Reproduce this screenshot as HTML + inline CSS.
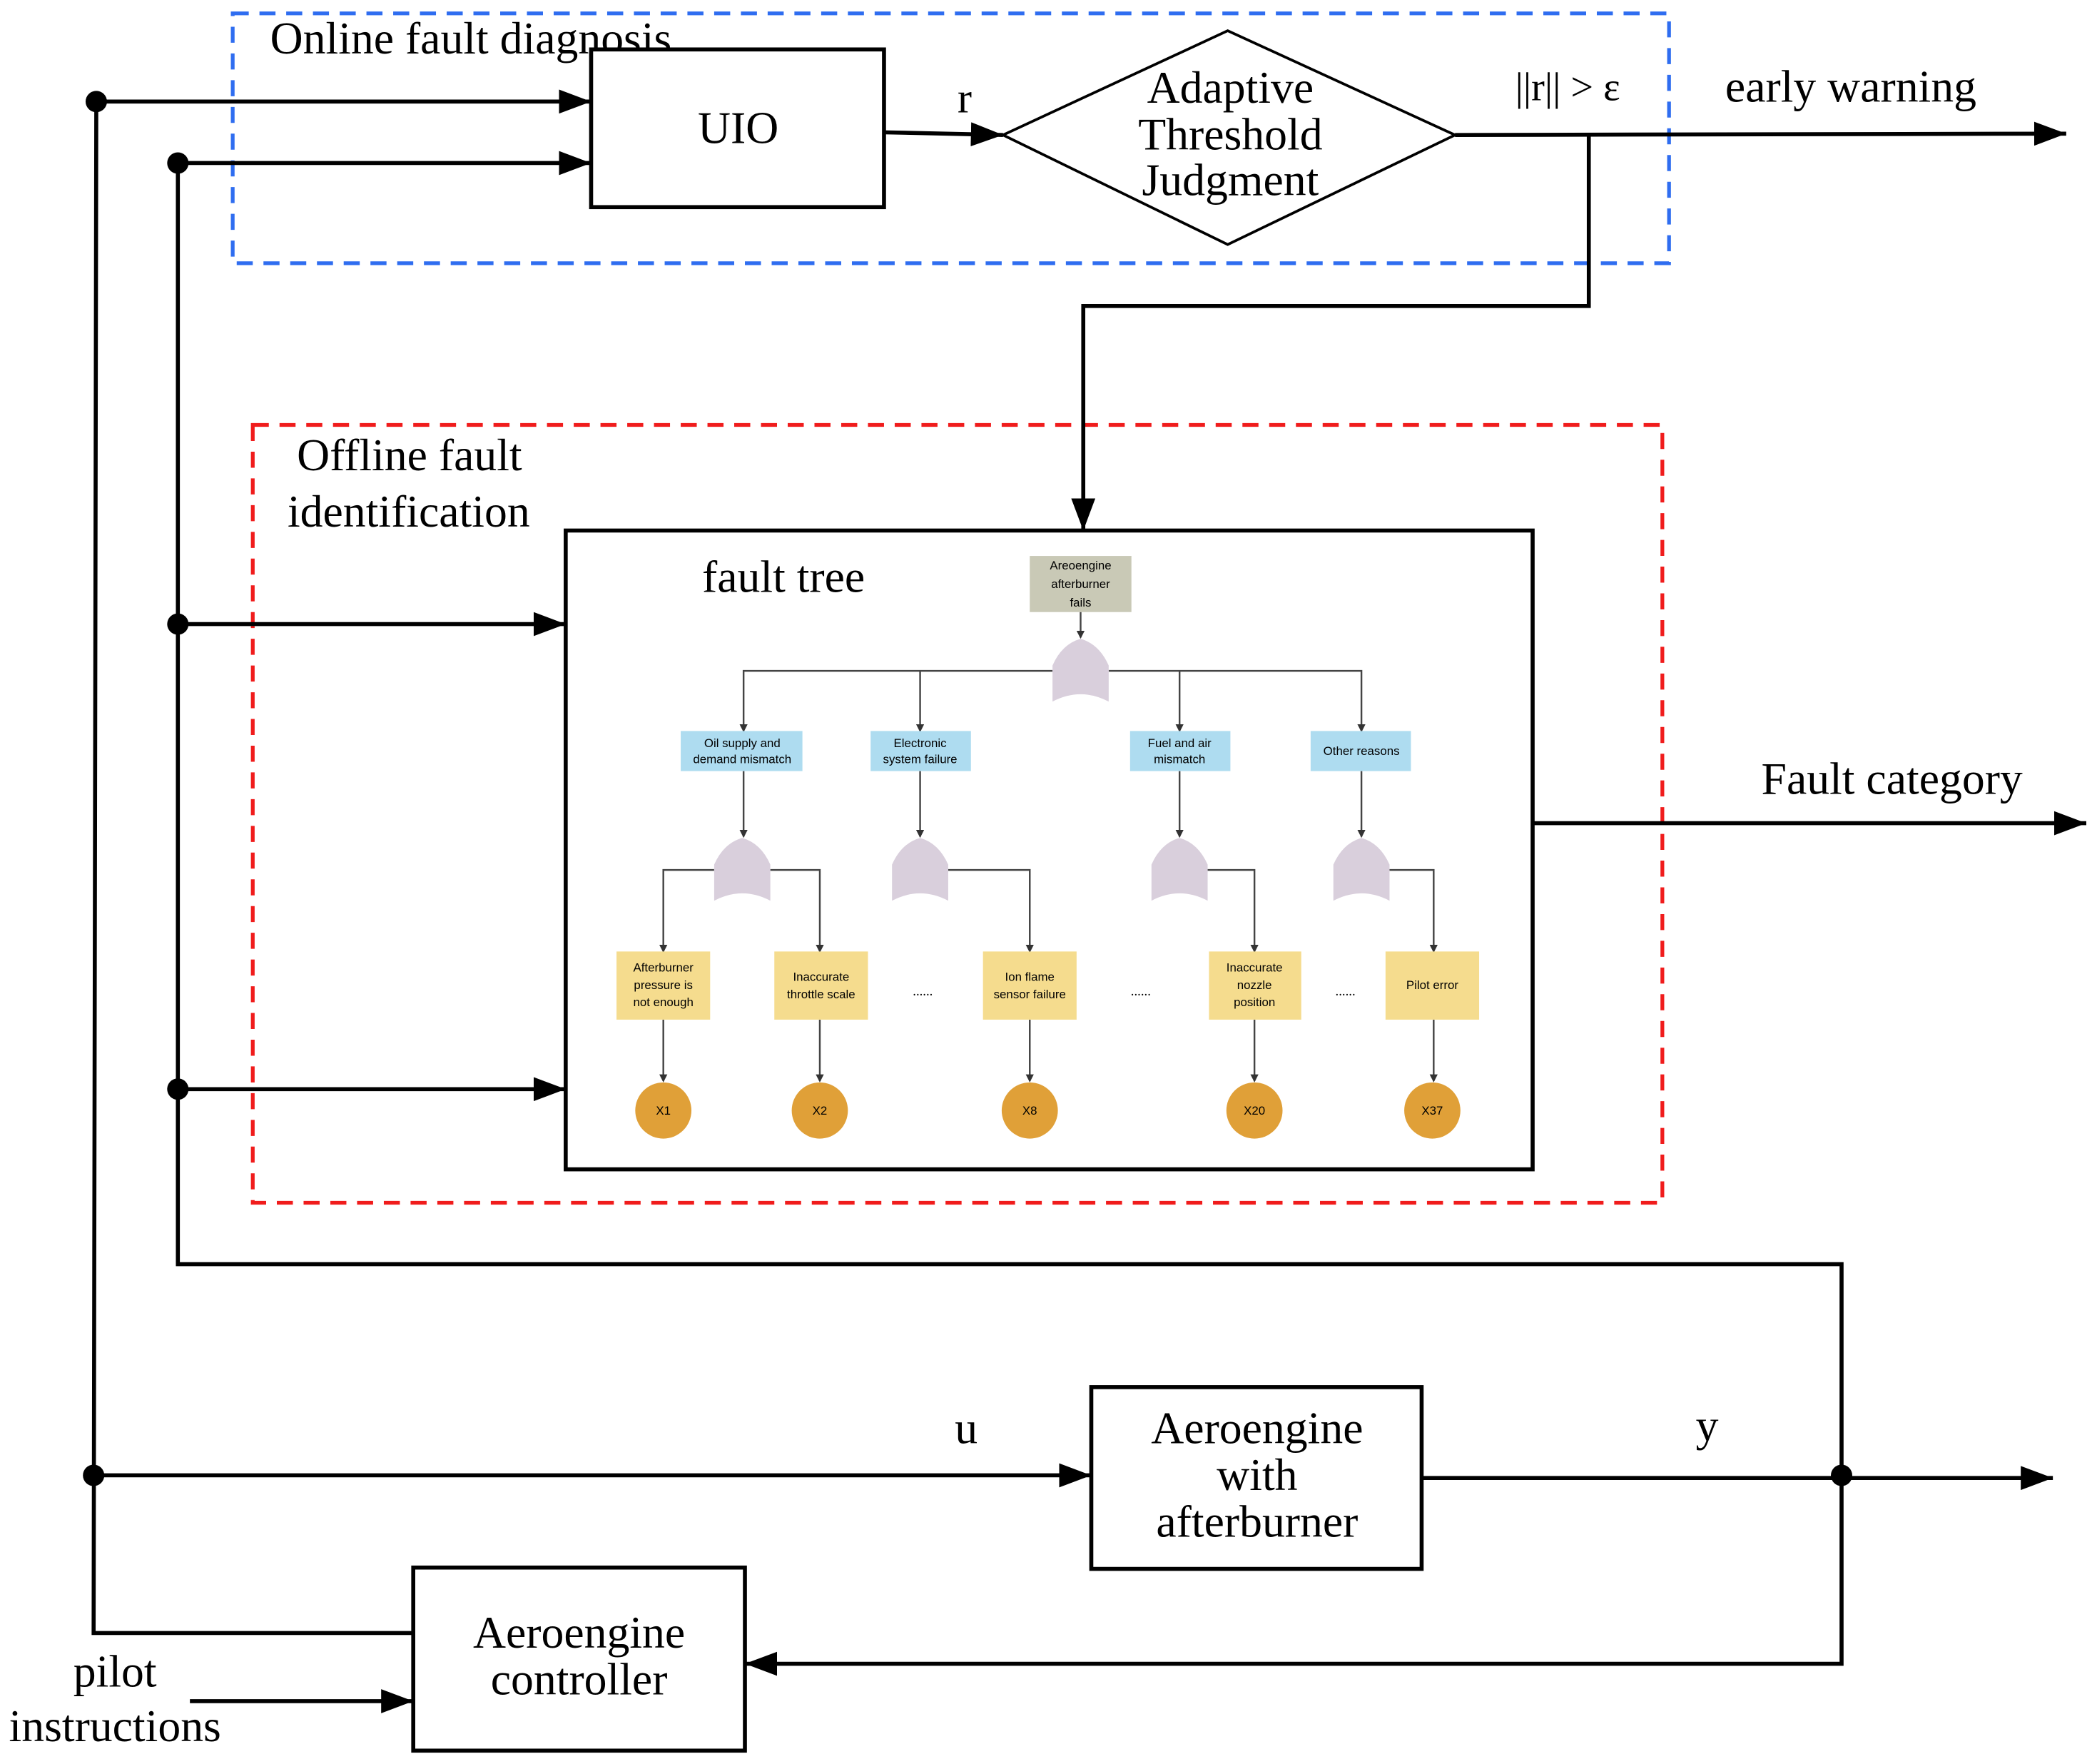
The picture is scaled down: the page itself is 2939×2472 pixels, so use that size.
<!DOCTYPE html>
<html><head><meta charset="utf-8"><style>
html,body{margin:0;padding:0;background:#fff;}
svg{display:block;}
text{font-family:"Liberation Serif",serif;fill:#000;}
.ft{font-family:"Liberation Sans",sans-serif;font-size:9px;text-anchor:middle;}
</style></head><body>
<svg width="2939" height="2472" viewBox="0 0 1568 1320" preserveAspectRatio="none" xmlns="http://www.w3.org/2000/svg">
<defs>
<marker id="a" markerWidth="24" markerHeight="18" refX="24" refY="9" orient="auto" markerUnits="userSpaceOnUse"><path d="M0,0 L24,9 L0,18 z" fill="#000"/></marker>
<marker id="s" markerWidth="6" markerHeight="6" refX="5" refY="3" orient="auto" markerUnits="userSpaceOnUse"><path d="M0,0 L6,3 L0,6 z" fill="#333"/></marker>
<g id="gate"><path d="M-21,47 L-21,20 Q-14,4 0,0 Q14,4 21,20 L21,47 Q0,36 -21,47 z" fill="#d9cfdc"/></g>
</defs>
<rect x="174" y="10" width="1074" height="187" fill="none" stroke="#2f6df0" stroke-width="2.8" stroke-dasharray="12,8"/>
<rect x="189" y="318" width="1054" height="582" fill="none" stroke="#f01c1c" stroke-width="2.8" stroke-dasharray="12,8"/>
<text x="202" y="40" font-size="34">Online fault diagnosis</text>
<text x="222" y="352" font-size="34">Offline fault</text>
<text x="215" y="394" font-size="34">identification</text>

<g stroke="#000" stroke-width="3" fill="none">
<rect x="442" y="37" width="219" height="118" fill="#fff"/>
<path d="M750,101 L918,23 L1088,101 L918,183 z" fill="#fff" stroke-width="2"/>
<rect x="423" y="397" width="723" height="478" fill="#fff"/>
<rect x="816" y="1038" width="247" height="136" fill="#fff"/>
<rect x="309" y="1173" width="248" height="137" fill="#fff"/>
<line x1="661" y1="99" x2="750" y2="101" marker-end="url(#a)"/>
<line x1="1088" y1="101" x2="1545" y2="100" marker-end="url(#a)"/>
<polyline points="1188,101 1188,229 810,229 810,397" marker-end="url(#a)"/>
<line x1="72" y1="76" x2="442" y2="76" marker-end="url(#a)"/>
<line x1="133" y1="122" x2="442" y2="122" marker-end="url(#a)"/>
<line x1="133" y1="467" x2="423" y2="467" marker-end="url(#a)"/>
<line x1="133" y1="815" x2="423" y2="815" marker-end="url(#a)"/>
<polyline points="72,76 70,1222 309,1222"/>
<polyline points="133,122 133,946 1377,946 1377,1245 557,1245" marker-end="url(#a)"/>
<line x1="1146" y1="616" x2="1560" y2="616" marker-end="url(#a)"/>
<line x1="70" y1="1104" x2="816" y2="1104" marker-end="url(#a)"/>
<line x1="1063" y1="1106" x2="1535" y2="1106" marker-end="url(#a)"/>
<line x1="142" y1="1273" x2="309" y2="1273" marker-end="url(#a)"/>
</g>
<g fill="#000">
<circle cx="72" cy="76" r="8"/><circle cx="133" cy="122" r="8"/><circle cx="133" cy="467" r="8"/>
<circle cx="133" cy="815" r="8"/><circle cx="70" cy="1104" r="8"/><circle cx="1377" cy="1104" r="8"/>
</g>
<text x="552" y="107" font-size="34" text-anchor="middle">UIO</text>
<text x="716" y="84" font-size="32">r</text>
<g font-size="34" text-anchor="middle"><text x="920" y="77">Adaptive</text><text x="920" y="112">Threshold</text><text x="920" y="146">Judgment</text></g>
<text x="1133" y="75" font-size="30">||r|| &gt; ε</text>
<text x="1290" y="76" font-size="34">early warning</text>
<text x="1317" y="594" font-size="34">Fault category</text>
<text x="525" y="443" font-size="34">fault tree</text>
<text x="714" y="1080" font-size="34">u</text>
<text x="1268" y="1078" font-size="34">y</text>
<g font-size="34" text-anchor="middle"><text x="940" y="1080">Aeroengine</text><text x="940" y="1115">with</text><text x="940" y="1150">afterburner</text>
<text x="433" y="1233">Aeroengine</text><text x="433" y="1268">controller</text>
<text x="86" y="1262">pilot</text><text x="86" y="1303">instructions</text></g>

<g stroke="#444" stroke-width="1.3" fill="none">
<line x1="808" y1="458" x2="808" y2="477" marker-end="url(#s)"/>
<polyline points="787,502 556,502 556,547" marker-end="url(#s)"/>
<line x1="688" y1="502" x2="688" y2="547" marker-end="url(#s)"/>
<polyline points="829,502 1018,502 1018,547" marker-end="url(#s)"/>
<line x1="882" y1="502" x2="882" y2="547" marker-end="url(#s)"/>
<line x1="556" y1="577" x2="556" y2="626" marker-end="url(#s)"/>
<line x1="688" y1="577" x2="688" y2="626" marker-end="url(#s)"/>
<line x1="882" y1="577" x2="882" y2="626" marker-end="url(#s)"/>
<line x1="1018" y1="577" x2="1018" y2="626" marker-end="url(#s)"/>
<polyline points="534,651 496,651 496,712" marker-end="url(#s)"/>
<polyline points="576,651 613,651 613,712" marker-end="url(#s)"/>
<polyline points="709,651 770,651 770,712" marker-end="url(#s)"/>
<polyline points="903,651 938,651 938,712" marker-end="url(#s)"/>
<polyline points="1039,651 1072,651 1072,712" marker-end="url(#s)"/>
<line x1="496" y1="763" x2="496" y2="809" marker-end="url(#s)"/>
<line x1="613" y1="763" x2="613" y2="809" marker-end="url(#s)"/>
<line x1="770" y1="763" x2="770" y2="809" marker-end="url(#s)"/>
<line x1="938" y1="763" x2="938" y2="809" marker-end="url(#s)"/>
<line x1="1072" y1="763" x2="1072" y2="809" marker-end="url(#s)"/>
</g>
<use href="#gate" x="808" y="478"/>
<use href="#gate" x="555" y="627"/><use href="#gate" x="688" y="627"/>
<use href="#gate" x="882" y="627"/><use href="#gate" x="1018" y="627"/>
<rect x="770" y="416" width="76" height="42" fill="#c9c9b6"/>
<text class="ft" x="808" y="426">Areoengine</text><text class="ft" x="808" y="440">afterburner</text><text class="ft" x="808" y="454">fails</text>
<g fill="#aedcf0">
<rect x="509" y="547" width="91" height="30"/><rect x="651" y="547" width="75" height="30"/>
<rect x="845" y="547" width="75" height="30"/><rect x="980" y="547" width="75" height="30"/>
</g>
<text class="ft" x="555" y="559">Oil supply and</text><text class="ft" x="555" y="571">demand mismatch</text>
<text class="ft" x="688" y="559">Electronic</text><text class="ft" x="688" y="571">system failure</text>
<text class="ft" x="882" y="559">Fuel and air</text><text class="ft" x="882" y="571">mismatch</text>
<text class="ft" x="1018" y="565">Other reasons</text>
<g fill="#f5dc8e">
<rect x="461" y="712" width="70" height="51"/><rect x="579" y="712" width="70" height="51"/>
<rect x="735" y="712" width="70" height="51"/><rect x="904" y="712" width="69" height="51"/>
<rect x="1036" y="712" width="70" height="51"/>
</g>
<text class="ft" x="496" y="727">Afterburner</text><text class="ft" x="496" y="740">pressure is</text><text class="ft" x="496" y="753">not enough</text>
<text class="ft" x="614" y="734">Inaccurate</text><text class="ft" x="614" y="747">throttle scale</text>
<text class="ft" x="770" y="734">Ion flame</text><text class="ft" x="770" y="747">sensor failure</text>
<text class="ft" x="938" y="727">Inaccurate</text><text class="ft" x="938" y="740">nozzle</text><text class="ft" x="938" y="753">position</text>
<text class="ft" x="1071" y="740">Pilot error</text>
<g font-family="Liberation Sans" font-size="10" fill="#777" text-anchor="middle">
<text x="690" y="745">......</text><text x="853" y="745">......</text><text x="1006" y="745">......</text></g>
<g fill="#e0a038">
<circle cx="496" cy="831" r="21"/><circle cx="613" cy="831" r="21"/><circle cx="770" cy="831" r="21"/>
<circle cx="938" cy="831" r="21"/><circle cx="1071" cy="831" r="21"/>
</g>
<text class="ft" x="496" y="834">X1</text><text class="ft" x="613" y="834">X2</text><text class="ft" x="770" y="834">X8</text>
<text class="ft" x="938" y="834">X20</text><text class="ft" x="1071" y="834">X37</text>
</svg>
</body></html>
